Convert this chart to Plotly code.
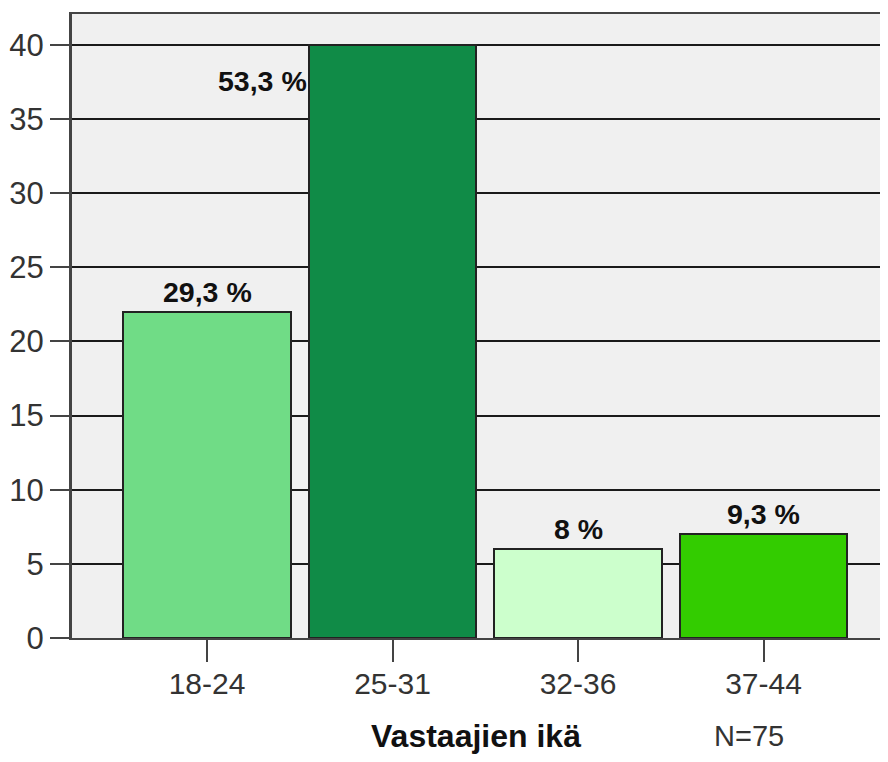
import plotly.graph_objects as go

# Vastaajien ikäjakauma (N=75)
ika_luokat = ['18-24', '25-31', '32-36', '37-44']
lukumaarat = [22, 40, 6, 7]
osuudet = ['29,3 %', '53,3 %', '8 %', '9,3 %']
varit = ['#70DC86', '#108B47', '#CCFFCC', '#33CC00']

FONT = 'Liberation Sans, Arial, sans-serif'

fig = go.Figure()
fig.add_trace(go.Bar(
    x=ika_luokat, y=lukumaarat, width=0.905,
    marker=dict(color=varit, line=dict(color='#222222', width=2)),
    hoverinfo='x+y', showlegend=False,
))

# prosenttiluvut palkkien päällä, suurimmalla palkilla vasemmalla puolella
annotations = []
for i, (kat, arvo, txt) in enumerate(zip(ika_luokat, lukumaarat, osuudet)):
    if arvo == max(lukumaarat):
        annotations.append(dict(x=i - 0.4525, y=arvo, xref='x', yref='y', text='<b>%s</b>' % txt,
                                showarrow=False, xanchor='right', yanchor='middle', yshift=-36,
                                font=dict(family=FONT, size=28.5, color='#111111')))
    else:
        annotations.append(dict(x=i, y=arvo, xref='x', yref='y', text='<b>%s</b>' % txt,
                                showarrow=False, xanchor='center', yanchor='bottom', yshift=2,
                                font=dict(family=FONT, size=28.5, color='#111111')))
annotations.append(dict(x=2.92, y=-0.157, xref='x', yref='paper', text='N=75', showarrow=False,
                        xanchor='center', yanchor='middle', font=dict(family=FONT, size=29, color='#333333')))

# sivun oletusmarginaali (8 px) huomioitu koossa, ettei tule vierityspalkkeja
fig.update_layout(
    width=872, height=746,
    margin=dict(l=64, r=0, t=6, b=116),
    paper_bgcolor='white', plot_bgcolor='#F0F0F0',
    font=dict(family=FONT, size=30, color='#333333'),
    bargap=0,
    annotations=annotations,
    xaxis=dict(
        range=[-0.728, 3.628], showgrid=False, zeroline=False,
        showline=True, mirror=True, linecolor='#444444', linewidth=2,
        ticks='outside', ticklen=22, tickwidth=2, tickcolor='#444444',
        ticklabelstandoff=-4,
        tickfont=dict(size=30, color='#333333'),
        title=dict(text='<b>Vastaajien ikä</b>', standoff=33,
                   font=dict(family=FONT, size=32, color='#111111')),
    ),
    yaxis=dict(
        range=[0, 42.09], dtick=5, showgrid=True, gridcolor='#1a1a1a', gridwidth=1.5,
        zeroline=False, showline=True, linecolor='#444444', linewidth=3,
        ticks='outside', ticklen=19, tickwidth=2, tickcolor='#444444',
        tickfont=dict(size=31, color='#333333'),
    ),
)

fig.write_html('out.html')
